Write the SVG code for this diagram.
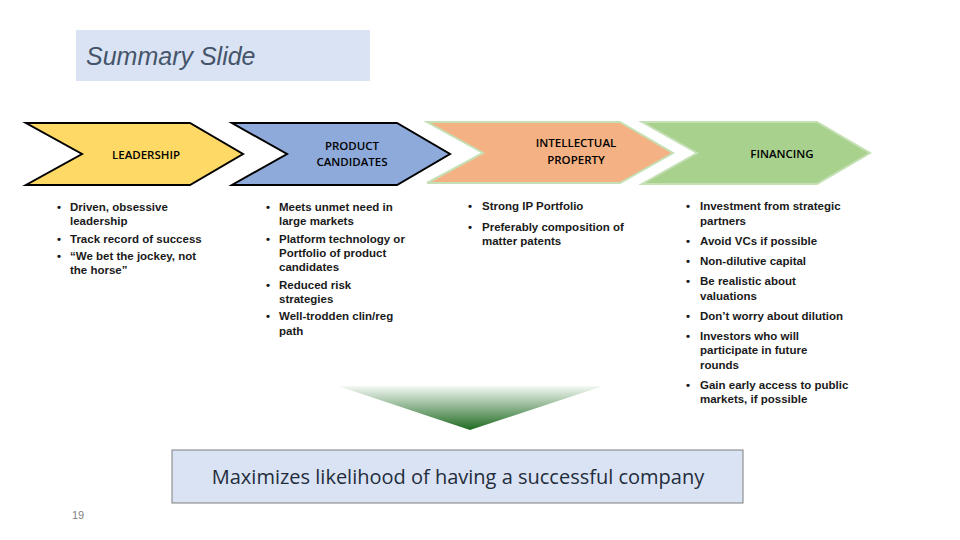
<svg xmlns="http://www.w3.org/2000/svg" width="960" height="540" viewBox="0 0 960 540">
<style>
.h{font-family:"Open Sans","Liberation Sans",sans-serif;font-size:11.5px;font-weight:600;fill:#000;text-anchor:middle}
.b{font-family:"Liberation Sans",Arial,sans-serif;font-size:11.5px;font-weight:bold;fill:#1a1a1a}
</style>
<defs>
<linearGradient id="g" x1="0" y1="0" x2="0" y2="1">
<stop offset="0" stop-color="#f4f8f4"/><stop offset="1" stop-color="#1f6b22"/>
</linearGradient>
</defs>
<rect width="960" height="540" fill="#fff"/>
<g id="title"><rect x="76" y="30" width="294" height="51" fill="#dae3f3"/>
<text x="86" y="65" font-family="Liberation Sans,Arial,sans-serif" font-size="25" font-style="italic" fill="#44546a">Summary Slide</text></g>
<g id="leadership"><polygon points="26,123 190,123 243,154 190,185 26,185 82,154" fill="#ffd966" stroke="#000" stroke-width="2"/>
<text class="h" x="146" y="159">LEADERSHIP</text></g>
<g id="product"><polygon points="232,123 397,123 450,154 397,185 232,185 287,154" fill="#8eaadb" stroke="#000" stroke-width="2"/>
<text class="h" x="352" y="150">PRODUCT</text><text class="h" x="352" y="166">CANDIDATES</text></g>
<g id="ip"><polygon points="427,122 620,122 673,153 620,183 427,183 483,153" fill="#f4b183" stroke="#c5e0b4" stroke-width="2"/>
<text class="h" x="576" y="147">INTELLECTUAL</text><text class="h" x="576" y="164">PROPERTY</text></g>
<g id="financing"><polygon points="642,122 817,122 870,153 817,184 642,184 697,153" fill="#a9d18e" stroke="#c5e0b4" stroke-width="2"/>
<text class="h" x="782" y="158">FINANCING</text></g>
<g id="lists" class="b">
<text x="57" y="211">•</text><text x="70" y="211">Driven, obsessive</text><text x="70" y="225">leadership</text>
<text x="57" y="243">•</text><text x="70" y="243">Track record of success</text>
<text x="57" y="260">•</text><text x="70" y="260">“We bet the jockey, not</text><text x="70" y="274">the horse”</text>
<text x="266" y="211">•</text><text x="279" y="211">Meets unmet need in</text><text x="279" y="225">large markets</text>
<text x="266" y="243">•</text><text x="279" y="243">Platform technology or</text><text x="279" y="257">Portfolio of product</text><text x="279" y="271">candidates</text>
<text x="266" y="289">•</text><text x="279" y="289">Reduced risk</text><text x="279" y="303">strategies</text>
<text x="266" y="320">•</text><text x="279" y="320">Well-trodden clin/reg</text><text x="279" y="335">path</text>
<text x="468" y="210">•</text><text x="482" y="210">Strong IP Portfolio</text>
<text x="468" y="231">•</text><text x="482" y="231">Preferably composition of</text><text x="482" y="245">matter patents</text>
<text x="686" y="210">•</text><text x="700" y="210">Investment from strategic</text><text x="700" y="225">partners</text>
<text x="686" y="245">•</text><text x="700" y="245">Avoid VCs if possible</text>
<text x="686" y="265">•</text><text x="700" y="265">Non-dilutive capital</text>
<text x="686" y="285">•</text><text x="700" y="285">Be realistic about</text><text x="700" y="300">valuations</text>
<text x="686" y="320">•</text><text x="700" y="320">Don’t worry about dilution</text>
<text x="686" y="340">•</text><text x="700" y="340">Investors who will</text><text x="700" y="354">participate in future</text><text x="700" y="369">rounds</text>
<text x="686" y="389">•</text><text x="700" y="389">Gain early access to public</text><text x="700" y="403">markets, if possible</text>
</g>
<g id="funnel"><polygon points="338,386 603,386 470,430" fill="url(#g)"/></g>
<g id="result"><rect x="172" y="450" width="571" height="53" fill="#dae3f3" stroke="#7f7f7f" stroke-width="1"/>
<text x="458" y="484" text-anchor="middle" font-family="Open Sans,Liberation Sans,sans-serif" font-size="20" fill="#1f2d3d">Maximizes likelihood of having a successful company</text></g>
<text x="72" y="519" font-family="Liberation Sans,Arial,sans-serif" font-size="11" fill="#7f7f7f">19</text>
<g id="connectors"/>
</svg>
